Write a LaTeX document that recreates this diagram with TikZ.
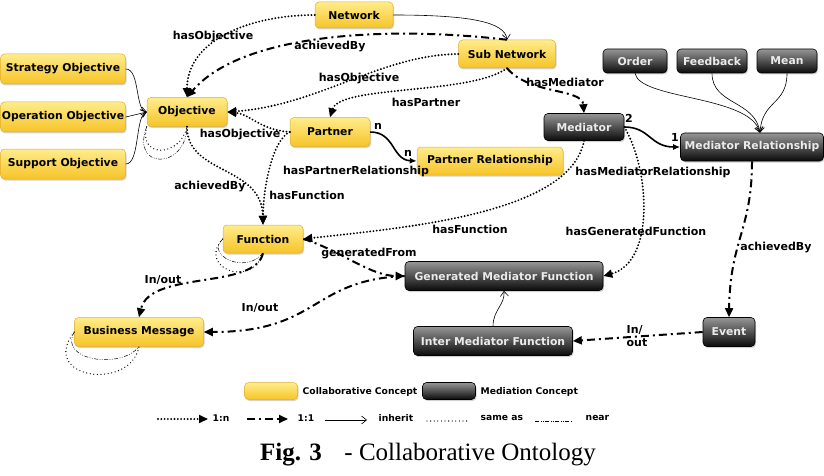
\documentclass[tikz,border=0pt]{standalone}
\usepackage{fontspec}
\setmainfont{DejaVu Sans}
\newfontfamily\capfont{Liberation Serif}
\usetikzlibrary{arrows.meta,shadows}
\definecolor{yTop}{RGB}{255,236,140}
\definecolor{yBot}{RGB}{246,196,40}
\definecolor{yEdge}{RGB}{225,175,40}
\definecolor{dTop}{RGB}{150,150,150}
\definecolor{dMid}{RGB}{70,70,70}
\definecolor{dBot}{RGB}{10,10,10}
\definecolor{dTxt}{RGB}{235,235,235}
\tikzset{
  box/.style={rounded corners=4pt, inner sep=0pt, font=\fontsize{10.8}{12}\selectfont\bfseries,
    drop shadow={shadow xshift=1pt,shadow yshift=-1.5pt,opacity=0.35}},
  ybox/.style={box, draw=yEdge, line width=0.5pt, top color=yTop, bottom color=yBot, text=black},
  dbox/.style={box, draw=black, line width=0.6pt, top color=dTop, middle color=dMid, bottom color=dBot, text=dTxt},
  lab/.style={font=\fontsize{11}{12.5}\selectfont\bfseries, inner sep=0.5pt},
  leg/.style={font=\fontsize{9.2}{10}\selectfont\bfseries, inner sep=0.5pt},
  onen/.style={line width=2.1pt, line cap=round, dash pattern=on 0pt off 3.3pt, -{Triangle[length=9pt,width=8pt]}},
  oneone/.style={line width=2pt, dash pattern=on 8pt off 4pt on 2pt off 4pt, -{Triangle[length=9pt,width=8pt]}},
  inh/.style={line width=0.6pt, -{Straight Barb[length=5pt,width=8pt]}},
  rel/.style={line width=1.6pt, -{Latex[length=7pt,width=6pt]}},
  sameas/.style={line width=1.3pt, line cap=round, dash pattern=on 0pt off 3.6pt},
  nearl/.style={line width=0.5pt, dash pattern=on 4pt off 1.5pt on 0.8pt off 1.5pt on 0.8pt off 1.5pt},
}
\begin{document}
\begin{tikzpicture}[x=1pt,y=-1pt]
\useasboundingbox (0,0) rectangle (824,476);
% collaborative concepts
\node[ybox, minimum width=78pt, minimum height=26pt] (net) at (354,15) {Network};
\node[ybox, minimum width=97pt, minimum height=28pt] (sub) at (507,54) {Sub Network};
\node[ybox, minimum width=125pt, minimum height=30pt] (strat) at (63,69) {Strategy Objective};
\node[ybox, minimum width=125pt, minimum height=30pt] (oper) at (63,117) {Operation Objective};
\node[ybox, minimum width=125pt, minimum height=30pt] (supp) at (63,164) {Support Objective};
\node[ybox, minimum width=80pt, minimum height=29pt] (obj) at (187,112) {Objective};
\node[ybox, minimum width=80pt, minimum height=29pt] (partner) at (330,132) {Partner};
\node[ybox, minimum width=146pt, minimum height=28pt] (pr) at (490,161) {Partner Relationship};
\node[ybox, minimum width=80pt, minimum height=28pt] (func) at (263,239) {Function};
\node[ybox, minimum width=129pt, minimum height=29pt] (bm) at (139,332) {Business Message};
% mediation concepts
\node[dbox, minimum width=80pt, minimum height=27pt] (med) at (584,127) {Mediator};
\node[dbox, minimum width=64pt, minimum height=24pt] (order) at (635,61) {Order};
\node[dbox, minimum width=70pt, minimum height=24pt] (feedback) at (712,61) {Feedback};
\node[dbox, minimum width=60pt, minimum height=24pt] (mean) at (787,61) {Mean};
\node[dbox, minimum width=143pt, minimum height=28pt] (mr) at (752,147) {Mediator Relationship};
\node[dbox, minimum width=198pt, minimum height=29pt] (gmf) at (504,276) {Generated Mediator Function};
\node[dbox, minimum width=159pt, minimum height=29pt] (imf) at (493,341) {Inter Mediator Function};
\node[dbox, minimum width=52pt, minimum height=29pt] (event) at (729,332) {Event};

% inherit links
\draw[inh] (strat.east) .. controls (140,69) and (135,110) .. (obj.west);
\draw[inh] (oper.east) -- (obj.west);
\draw[inh] (supp.east) .. controls (140,164) and (135,116) .. (obj.west);
\draw[inh] (net.east) .. controls (470,15) and (505,22) .. (sub.north);
\coordinate (mrtop) at ([xshift=8pt]mr.north);
\draw[inh] (order.south) .. controls (640,100) and (750,95) .. (mrtop);
\draw[inh] (feedback.south) .. controls (712,105) and (755,100) .. (mrtop);
\draw[inh] (mean.south) .. controls (787,105) and (762,100) .. (mrtop);
\draw[inh] (imf.north) .. controls (493,310) and (505,305) .. (gmf.south);

% 1:n links
\draw[onen] (net.west) .. controls (250,15) and (187,40) .. (obj.north);
\draw[onen] (sub.west) .. controls (380,55) and (320,105) .. (obj.east);
\draw[onen] (sub.south) .. controls (470,95) and (340,85) .. (partner.north);
\draw[onen] (partner.west) .. controls (260,130) and (250,114) .. (obj.east);
\draw[onen] (partner.west) .. controls (272,140) and (263,190) .. (func.north);
\draw[onen] (obj.south) .. controls (187,175) and (262,165) .. (func.north);
\draw[onen] (med.south) .. controls (570,215) and (400,228) .. (func.east);
\draw[onen] (med.east) .. controls (650,170) and (655,262) .. (gmf.east);

% 1:1 links
\draw[oneone] (sub.north) .. controls (380,25) and (240,35) .. (obj.north);
\draw[oneone] (sub.south) .. controls (530,95) and (582,88) .. (med.north);
\draw[oneone] (func.east) .. controls (340,250) and (370,276) .. (gmf.west);
\draw[oneone] (func.south) .. controls (255,290) and (150,270) .. (bm.north);
\draw[oneone] (gmf.west) .. controls (310,280) and (320,332) .. (bm.east);
\draw[oneone] (mr.south) .. controls (752,230) and (730,240) .. (event.north);
\draw[oneone] (event.west) -- (imf.east);

% relationships
\draw[rel] (partner.east) .. controls (395,132) and (392,160) .. (pr.west);
\draw[rel] (med.east) .. controls (650,127) and (650,147) .. (mr.west);

% self loops
\draw[sameas] (obj.south west) .. controls (138,158) and (180,158) .. (obj.south);
\draw[nearl] (obj.south west) .. controls (130,170) and (186,170) .. (obj.south);
\draw[nearl] (func.west) .. controls (205,255) and (245,275) .. (func.south);
\draw[sameas] (func.west) .. controls (197,266) and (250,290) .. (func.south);
\draw[nearl] (bm.west) .. controls (58,360) and (120,370) .. (bm.south);
\draw[sameas] (bm.west) .. controls (38,378) and (130,392) .. (bm.south);

% edge labels
\node[lab] (l1) at (213,37) {hasObjective};
\node[lab] (l2) at (330,47) {achievedBy};
\node[lab] (l3) at (359,79) {hasObjective};
\node[lab] (l4) at (426,102) {hasPartner};
\node[lab] (l5) at (565,82) {hasMediator};
\node[lab] (l6) at (240,135) {hasObjective};
\node[lab] (l7) at (356,171) {hasPartnerRelationship};
\node[lab] (l8) at (210,187) {achievedBy};
\node[lab] (l9) at (307,195) {hasFunction};
\node[lab] (l10) at (653,172) {hasMediatorRelationship};
\node[lab] (l11) at (470,229) {hasFunction};
\node[lab] (l12) at (636,231) {hasGeneratedFunction};
\node[lab] (l13) at (776,248) {achievedBy};
\node[lab] (l14) at (369,254) {generatedFrom};
\node[lab] (l15) at (163,280) {In/out};
\node[lab] (l16) at (260,308) {In/out};
\node[lab, align=left] (l17) at (637,336) {In/\\out};
\node[lab] (n1) at (378,126) {n};
\node[lab] (n2) at (408,153) {n};
\node[lab] (n3) at (629,118) {2};
\node[lab] (n4) at (675,137) {1};

% legend
\node[ybox, minimum width=53pt, minimum height=17pt] (lgy) at (271,391) {};
\node[leg, anchor=west] (lgyt) at (302,392) {Collaborative Concept};
\node[dbox, minimum width=53pt, minimum height=17pt] (lgd) at (449,391) {};
\node[leg, anchor=west] (lgdt) at (480,392) {Mediation Concept};
\coordinate (a1) at (158,419); \coordinate (b1) at (208,419);
\draw[onen] (a1) -- (b1);
\node[leg, anchor=west] (t1) at (212,418) {1:n};
\coordinate (a2) at (247,419); \coordinate (b2) at (288,419);
\draw[oneone] (a2) -- (b2);
\node[leg, anchor=west] (t2) at (297,418) {1:1};
\coordinate (a3) at (325,420); \coordinate (b3) at (367,420);
\draw[inh] (a3) -- (b3);
\node[leg, anchor=west] (t3) at (378,418) {inherit};
\coordinate (a4) at (427,421); \coordinate (b4) at (470,421);
\draw[sameas] (a4) -- (b4);
\node[leg, anchor=west] (t4) at (480,418) {same as};
\coordinate (a5) at (535,421); \coordinate (b5) at (573,421);
\draw[nearl] (a5) -- (b5);
\node[leg, anchor=west] (t5) at (585,418) {near};

% caption
\node[inner sep=0pt] (cap) at (428,455) {\capfont\fontsize{25}{29}\selectfont\textbf{Fig. 3}\hspace{0.9em}- Collaborative Ontology};
\end{tikzpicture}
\end{document}
